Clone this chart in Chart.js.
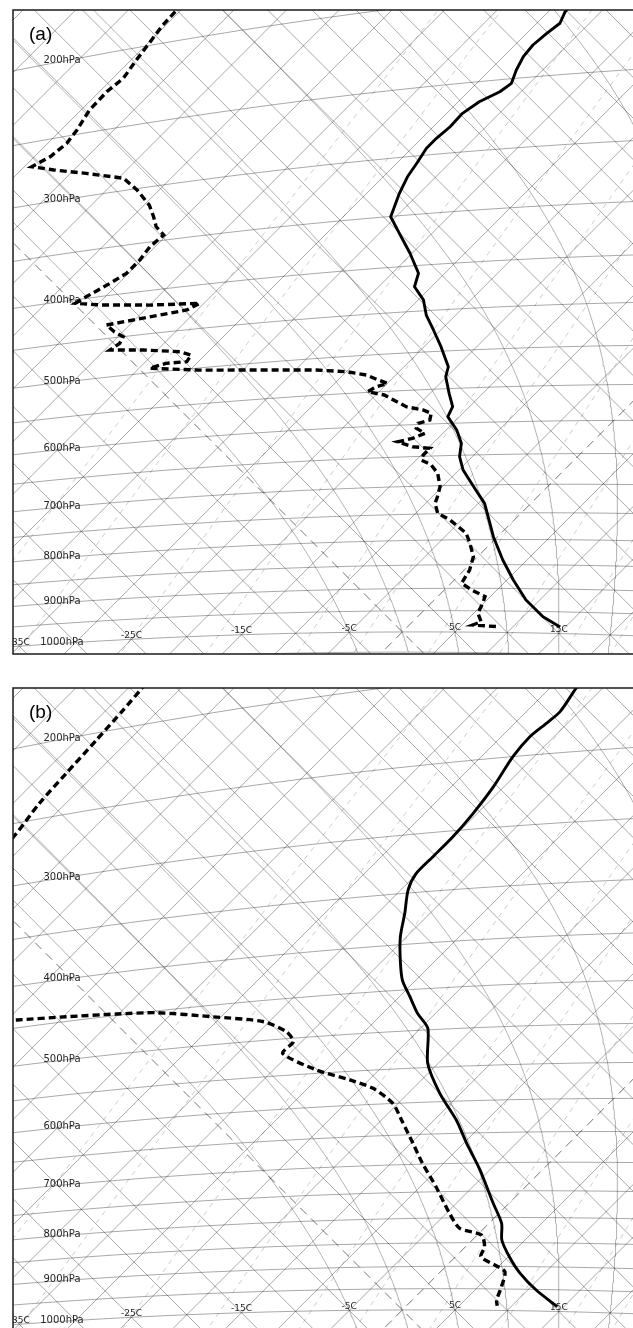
<!DOCTYPE html>
<html>
<head>
<meta charset="utf-8">
<script src="https://cdn.jsdelivr.net/npm/chart.js@4.4.1/dist/chart.umd.min.js"></script>
<style>
  html, body { margin: 0; padding: 0; background: #fff; overflow: hidden; }
  #wrap { position: relative; width: 633px; height: 1328px; overflow: hidden; }
  canvas { position: absolute; left: 0; }
</style>
</head>
<body>
<div id="wrap">
  <canvas id="chartA" width="633" height="664" style="top:0px"></canvas>
  <canvas id="chartB" width="633" height="664" style="top:678px"></canvas>
</div>
<script>
// ---- Sounding (a): temperature profile (hPa, degC)
const pressureA = [200, 212.0, 218.3, 223.5, 229.8, 236.5, 244.6, 253.1, 258.1, 263.8, 270.9, 279.9, 287.7, 294.7, 305.9, 316.4, 329.9, 344.3, 350.3, 366.6, 387.0, 408.2, 422.4, 437.6, 455.1, 473.3, 494.3, 520.5, 533.6, 556.6, 575.7, 590.1, 610.4, 631.1, 652.3, 674.3, 708.7, 732.4, 756.7, 794.5, 840.5, 881.9, 924.9, 961.8, 984.7];
const temperatureA = [-43.8, -43.4, -42.8, -43.1, -43.3, -43.1, -42.5, -41.7, -42.0, -43.0, -43.5, -43.4, -43.6, -43.6, -43.1, -42.7, -41.9, -40.9, -40.5, -38.1, -35.2, -32.5, -31.6, -29.5, -27.8, -25.7, -23.4, -20.8, -20.1, -18.2, -16.6, -16.1, -14.0, -12.3, -11.2, -9.6, -6.5, -4.4, -2.8, -0.4, 2.7, 5.6, 8.7, 11.9, 14.5];

// ---- Sounding (a): dew point profile (hPa, degC)
const dewPressureA = [176.2, 183.6, 189.8, 200.5, 207.4, 217.3, 224.1, 234.4, 246.8, 255.3, 263.3, 268.6, 274.1, 281.1, 289.7, 301.2, 315.8, 326.7, 336.3, 345.0, 354.7, 366.7, 378.6, 386.9, 398.2, 403.9, 409.4, 416.3, 420.6, 426.6, 429.1, 433.6, 442.9, 450.1, 457.8, 464.8, 469.5, 476.4, 482.2, 490.2, 489.7, 494.1, 502.9, 510.4, 515.2, 520.0, 526.0, 533.7, 538.9, 542.8, 549.1, 554.9, 573.1, 578.9, 584.2, 594.1, 598.3, 605.7, 613.9, 621.0, 625.4, 634.1, 637.6, 648.0, 656.0, 664.7, 678.8, 701.8, 719.3, 730.9, 749.3, 762.0, 787.6, 807.1, 833.8, 861.1, 889.2, 903.7, 918.3, 933.0, 955.8, 975.2, 983.0, 986.5];
const dewpointA = [-80.6, -80.4, -80.3, -79.8, -79.5, -79.0, -79.3, -79.2, -78.5, -78.2, -78.5, -79.3, -76.9, -73.5, -69.5, -67.1, -64.5, -63.0, -61.8, -60.3, -60.5, -60.2, -60.2, -60.8, -61.8, -62.2, -59.7, -55.0, -50.4, -51.0, -53.1, -57.2, -55.8, -54.5, -54.2, -54.5, -51.3, -47.7, -46.3, -46.1, -47.9, -49.0, -44.1, -37.7, -33.0, -30.0, -27.8, -26.2, -25.0, -25.7, -26.1, -24.2, -21.0, -19.1, -18.0, -17.5, -18.3, -18.0, -16.7, -17.4, -18.5, -16.6, -14.8, -14.8, -14.5, -13.1, -11.7, -10.2, -9.5, -9.1, -7.9, -6.1, -3.3, -2.0, -0.4, 0.5, 1.0, 2.6, 4.5, 4.9, 5.4, 6.5, 6.0, 8.6];

// ---- Sounding (b): temperature profile (hPa, degC)
const pressureB = [195, 211.8, 224.4, 230.7, 238.1, 250.1, 269.5, 287.8, 304.8, 319.8, 333.0, 347.2, 368.9, 391.8, 416.2, 438.5, 458.3, 478.8, 498.1, 544.2, 587.6, 628.9, 666.7, 712.3, 742.0, 772.8, 811.3, 844.6, 879.2, 914.7, 951.3, 988.8];
const temperatureB = [-43.3, -42.5, -41.8, -42.0, -42.3, -42.0, -41.0, -40.4, -40.1, -40.1, -40.1, -39.3, -37.4, -35.6, -33.4, -31.3, -29.0, -26.7, -24.3, -21.0, -17.0, -12.9, -9.7, -5.9, -3.7, -1.5, 1.2, 2.8, 5.1, 7.7, 10.8, 14.4];

// ---- Sounding (b): dew point profile (hPa, degC)
const dewPressureB = [169.9, 179.7, 189.7, 204.3, 221.8, 238.9, 258.8, 295.4, 356.9, 434.0, 440.2, 444.2, 448.3, 452.2, 464.2, 476.0, 491.0, 504.6, 519.1, 545.3, 562.3, 576.2, 599.9, 626.1, 664.3, 698.7, 740.8, 791.1, 820.8, 834.5, 858.4, 879.5, 897.1, 911.5, 944.9, 975.5, 989.0];
const dewpointB = [-84.1, -83.7, -83.4, -83.1, -82.8, -82.5, -81.8, -81.1, -77.3, -69.2, -64.1, -59.7, -55.2, -51.5, -45.8, -40.5, -37.4, -35.8, -35.7, -30.9, -26.8, -23.8, -20.5, -18.1, -14.8, -12.0, -8.5, -4.7, -2.3, 0.4, 1.8, 2.4, 4.5, 6.1, 7.2, 8.0, 8.6];

// ---- Diagram furniture
const isobarLevels = [1050, 1000, 950, 900, 850, 800, 750, 700, 650, 600, 550, 500, 450, 400, 350, 300, 250, 200, 150];
const isobarLabels = [1000, 900, 800, 700, 600, 500, 400, 300, 200];
const isothermLabels = [-35, -25, -15, -5, 5, 15];
const isotherms = [];               // every 5 degC
for (let t = -110; t <= 40; t += 5) isotherms.push(t);
const dryAdiabats = [];             // potential temperature, every 5 degC
for (let th = -45; th <= 100; th += 5) dryAdiabats.push(th);
const wetAdiabats = [-5, 0, 5, 10, 15, 20, 25, 30];
const mixingRatios = [0.1, 0.2, 0.5, 1, 2, 3, 5, 8, 12, 16, 20];

// ---- Tephigram transform: x = T + S ln(theta), y = S ln(theta) - T
const S = 275;
const KAPPA = 0.2857;
const KELVIN = 273.15;
const X_MIN = 1742.02, X_MAX = 1859.67;
const Y_MIN = 1265.42, Y_MAX = 1387.62;
const LABEL_X = 62;

function tephi(p, tc) {
  const T = tc + KELVIN;
  const s = S * (Math.log(T) + KAPPA * Math.log(1000 / p));
  return { x: T + s, y: s - T };
}
function tephiTheta(thetaC, tc) {
  const T = tc + KELVIN;
  const s = S * Math.log(thetaC + KELVIN);
  return { x: T + s, y: s - T };
}

function line(points, color, width, dash) {
  return {
    data: points, showLine: true, pointRadius: 0, borderColor: color,
    borderWidth: width, borderDash: dash || [], fill: false, tension: 0, order: 1
  };
}

function moistAdiabat(thetaW) {
  const Rd = 287.04, cp = 1005.7, Lv = 2.501e6, eps = 0.622;
  const rs = (T, p) => {
    const tc = T - KELVIN;
    const es = 6.112 * Math.exp(17.67 * tc / (tc + 243.5));
    return eps * es / (p - es);
  };
  const f = (T, p) => {
    const r = rs(T, p);
    return (Rd * T + Lv * r) / (p * (cp + Lv * Lv * r * eps / (Rd * T * T)));
  };
  const up = [];
  let T = thetaW + KELVIN;
  for (let p = 1000; p >= 150; p -= 5) {
    up.push(tephi(p, T - KELVIN));
    const k1 = f(T, p), k2 = f(T - 5 * k1, p - 5);
    T -= 2.5 * (k1 + k2);
  }
  const down = [];
  T = thetaW + KELVIN;
  for (let p = 1000; p < 1050; p += 5) {
    const k1 = f(T, p), k2 = f(T + 5 * k1, p + 5);
    T += 2.5 * (k1 + k2);
    down.unshift(tephi(p + 5, T - KELVIN));
  }
  return down.concat(up);
}

function mixingLine(w) {
  const pts = [];
  for (let p = 1050; p >= 200; p -= 25) {
    const e = (w / 1000) * p / (0.622 + w / 1000);
    const L = Math.log(e / 6.112);
    pts.push(tephi(p, 243.5 * L / (17.67 - L)));
  }
  return pts;
}

function backgroundSets() {
  const sets = [];
  const grid = 'rgba(0,0,0,0.34)';
  const special = 'rgba(0,0,0,0.55)';
  isotherms.forEach(t => {
    sets.push(line([tephiTheta(-45, t), tephiTheta(105, t)], t === 0 ? special : grid, 1, t === 0 ? [9, 6] : []));
  });
  dryAdiabats.forEach(th => {
    sets.push(line([tephiTheta(th, -120), tephiTheta(th, 45)], th === 0 ? special : grid, 1, th === 0 ? [9, 6] : []));
  });
  isobarLevels.forEach(p => {
    const pts = [];
    for (let t = -120; t <= 45; t += 2.5) pts.push(tephi(p, t));
    sets.push(line(pts, grid, 1));
  });
  wetAdiabats.forEach(tw => sets.push(line(moistAdiabat(tw), 'rgba(0,0,0,0.38)', 0.8)));
  mixingRatios.forEach(w => sets.push(line(mixingLine(w), 'rgba(0,0,0,0.2)', 1, [5, 5])));
  return sets;
}

function labelsPlugin(tag) {
  return {
    id: 'tephiLabels',
    beforeDatasetDraw(chart, args) {
      if (args.index !== 1) return;
      const ctx = chart.ctx, xs = chart.scales.x, ys = chart.scales.y, a = chart.chartArea;
      ctx.save();
      ctx.beginPath();
      ctx.rect(a.left, a.top, a.right - a.left, a.bottom - a.top);
      ctx.clip();
      ctx.fillStyle = '#262626';
      ctx.textAlign = 'center';
      ctx.textBaseline = 'middle';
      ctx.font = '10px "DejaVu Sans", sans-serif';
      isobarLabels.forEach(p => {
        let lo = -160, hi = 60;
        for (let k = 0; k < 40; k++) {
          const mid = (lo + hi) / 2;
          if (xs.getPixelForValue(tephi(p, mid).x) < LABEL_X) lo = mid; else hi = mid;
        }
        const pt = tephi(p, lo);
        ctx.fillText(p + 'hPa', LABEL_X, ys.getPixelForValue(pt.y) - 1);
      });
      ctx.font = '9px "DejaVu Sans", sans-serif';
      isothermLabels.forEach(t => {
        const pt = tephi(1000, t);
        ctx.fillText(t + 'C', xs.getPixelForValue(pt.x), ys.getPixelForValue(pt.y) - 4);
      });
      ctx.fillStyle = '#000';
      ctx.font = '19px "Liberation Sans", Arial, sans-serif';
      ctx.textAlign = 'left';
      ctx.fillText('(' + tag + ')', a.left + 16, a.top + 25);
      ctx.restore();
    },
    afterDraw(chart) {
      const ctx = chart.ctx, a = chart.chartArea;
      ctx.save();
      ctx.strokeStyle = '#1a1a1a';
      ctx.lineWidth = 1.5;
      ctx.strokeRect(a.left, a.top, a.right - a.left + 30, a.bottom - a.top);
      ctx.restore();
    }
  };
}

function drawTephigram(id, tag, pT, tT, pD, tD, tension) {
  const temp = pT.map((p, i) => tephi(p, tT[i]));
  const dew = pD.map((p, i) => tephi(p, tD[i]));
  const datasets = [
    { data: temp, showLine: true, pointRadius: 0, borderColor: '#000', borderWidth: 2.9,
      fill: false, tension: tension, order: 0, borderJoinStyle: 'round' },
    { data: dew, showLine: true, pointRadius: 0, borderColor: '#000', borderWidth: 3.4,
      borderDash: [7, 4], fill: false, tension: tension, order: 0 }
  ].concat(backgroundSets());
  new Chart(document.getElementById(id), {
    type: 'scatter',
    data: { datasets },
    options: {
      responsive: false, animation: false, devicePixelRatio: 1, events: [],
      layout: { padding: { left: 13, top: 10, right: 0, bottom: 10 } },
      scales: {
        x: { type: 'linear', min: X_MIN, max: X_MAX, display: false },
        y: { type: 'linear', min: Y_MIN, max: Y_MAX, display: false }
      },
      plugins: { legend: { display: false }, tooltip: { enabled: false } }
    },
    plugins: [labelsPlugin(tag)]
  });
}

drawTephigram('chartA', 'a', pressureA, temperatureA, dewPressureA, dewpointA, 0);
drawTephigram('chartB', 'b', pressureB, temperatureB, dewPressureB, dewpointB, 0.25);
</script>
</body>
</html>
